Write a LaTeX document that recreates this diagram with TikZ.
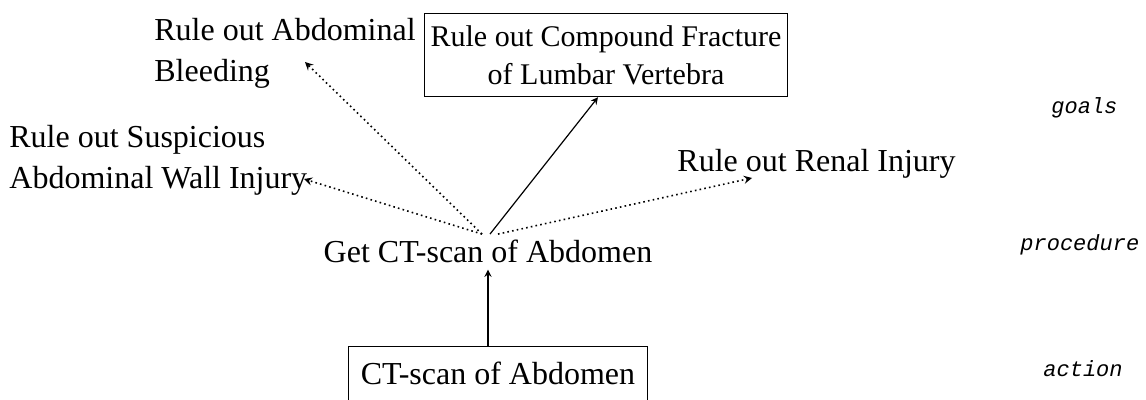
\documentclass[tikz,border=0pt]{standalone}
\usepackage{fontspec}
\setmainfont{Liberation Serif}
\setmonofont{Liberation Mono}
\usepackage{tikz}
\usetikzlibrary{positioning}

\tikzset{
  txt/.style={inner sep=3pt, font=\fontsize{16}{20.5}\selectfont},
  goalbox/.style={draw, semithick, align=center, inner xsep=3pt, inner ysep=6pt,
    font=\fontsize{15}{19}\selectfont},
  actbox/.style={txt, draw, semithick, inner xsep=6pt, inner ysep=8pt},
  layer/.style={anchor=base west, inner sep=0pt, font=\fontsize{11}{12}\ttfamily\itshape},
  dotarrow/.style={->, >=stealth, line width=0.8pt, dash pattern=on 0.8pt off 1.6pt},
  solidarrow/.style={->, >=stealth, semithick}
}

\begin{document}
\begin{tikzpicture}[x=0.5pt, y=-0.5pt]
  \useasboundingbox (0,0) rectangle (1146,400);

  % goals
  \node[txt, anchor=north west, align=left, inner sep=0pt] (bleed) at (154,18) {Rule out Abdominal\\Bleeding};
  \node[goalbox] (fract) at (606,55) {Rule out Compound Fracture\\of Lumbar Vertebra};
  \node[txt, anchor=north west, align=left, inner sep=0pt] (wall) at (9,125) {Rule out Suspicious\\Abdominal Wall Injury};
  \node[txt, anchor=base west] (renal) at (671,172) {Rule out Renal Injury};

  % procedure and action
  \node[txt, anchor=base] (get) at (488,263) {Get CT-scan of Abdomen};
  \node[actbox, anchor=base] (cta) at (498,385) {CT-scan of Abdomen};

  % free ends of the dotted arrows
  \coordinate (bleedtip) at (305,62);
  \coordinate (walltip) at (304,179);
  \coordinate (renaltip) at (752,178);

  % connectors
  \draw[dotarrow] ([xshift=-3pt]get.north) -- (bleedtip);
  \draw[dotarrow] ([xshift=-3pt]get.north) -- (walltip);
  \draw[dotarrow] ([xshift=5pt]get.north) -- (renaltip);
  \draw[solidarrow] ([xshift=1pt]get.north) -- ([xshift=-4pt]fract.south);
  \draw[solidarrow] (cta.north -| get.south) -- (get.south);

  % layer labels
  \node[layer] (goals) at (1051,114) {goals};
  \node[layer] (proc) at (1020,251) {procedure};
  \node[layer] (act) at (1043,377) {action};
\end{tikzpicture}
\end{document}
